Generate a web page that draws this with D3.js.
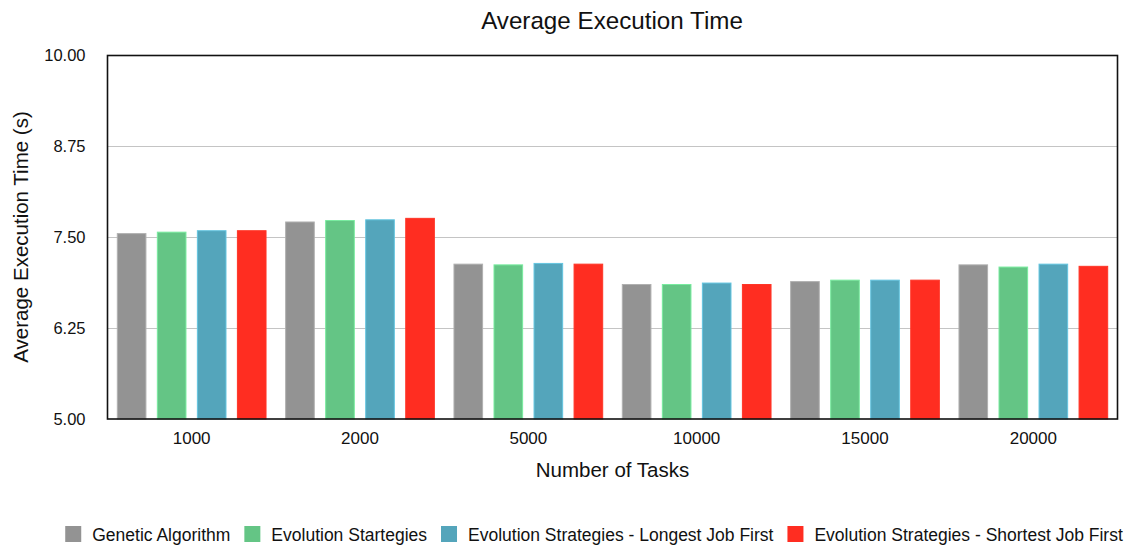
<!DOCTYPE html>
<html><head><meta charset="utf-8">
<script src="https://cdn.jsdelivr.net/npm/d3@7"></script>
<style>body{margin:0;background:#fff}svg{display:block}text{font-family:"Liberation Sans",Arial,Helvetica,sans-serif;fill:#111}</style>
</head><body><svg id="c" width="1129" height="545"></svg>
<script>
const categories = ["1000","2000","5000","10000","15000","20000"];
const seriesNames = ["Genetic Algorithm","Evolution Startegies","Evolution Strategies - Longest Job First","Evolution Strategies - Shortest Job First"];
const seriesColors = ["#939393","#64c585","#54a5bb","#ff2d21"];
const gaValues   = [7.55, 7.71, 7.13, 6.85, 6.89, 7.12];
const esValues   = [7.57, 7.73, 7.12, 6.85, 6.91, 7.09];
const ljfValues  = [7.59, 7.74, 7.14, 6.87, 6.91, 7.13];
const sjfValues  = [7.59, 7.76, 7.13, 6.85, 6.91, 7.10];
const yTicks = [5.00, 6.25, 7.50, 8.75, 10.00];
const allValues = [gaValues, esValues, ljfValues, sjfValues];

const svg = d3.select("#c");
const L = 107.5, R = 1117.5, T = 55.5, B = 419;
const x0 = d3.scaleBand().domain(categories).range([L, R]).padding(0);
const x1 = d3.scaleBand().domain(seriesNames).range([0, x0.bandwidth()]).paddingInner(0.285).paddingOuter(0.245);
const y = d3.scaleLinear().domain([5, 10]).range([B, T]);

// gridlines
svg.append("g").selectAll("line").data(yTicks.slice(1, -1)).join("line")
  .attr("x1", L).attr("x2", R).attr("y1", d => Math.round(y(d)) + 0.5).attr("y2", d => Math.round(y(d)) + 0.5)
  .attr("stroke", "#c4c4c4").attr("stroke-width", 1);

// bars
const rows = categories.map((c, i) => ({cat: c, vals: allValues.map((a, j) => ({name: seriesNames[j], v: a[i], color: seriesColors[j]}))}));
svg.append("g").selectAll("g").data(rows).join("g")
  .attr("transform", d => `translate(${x0(d.cat)},0)`)
  .selectAll("rect").data(d => d.vals).join("rect")
  .attr("x", d => x1(d.name)).attr("width", x1.bandwidth())
  .attr("y", d => y(d.v)).attr("height", d => y(5) - y(d.v))
  .attr("fill", d => d.color)
  .attr("stroke", d => d3.color(d.color).brighter(0.5)).attr("stroke-width", 1);

// frame
svg.append("rect").attr("x", L).attr("y", T).attr("width", R - L).attr("height", B - T)
  .attr("fill", "none").attr("stroke", "#111").attr("stroke-width", 1.6);

// y axis labels
const yAxis = d3.axisLeft(y).tickValues(yTicks).tickFormat(d3.format(".2f")).tickSize(0).tickPadding(22);
const gy = svg.append("g").attr("transform", `translate(${L},0)`).call(yAxis);
gy.select(".domain").remove();
gy.selectAll("text").style("font-size", "16.5px").attr("fill", "#111").style("font-family", '"Liberation Sans",Arial,sans-serif');

// x axis labels
const xAxis = d3.axisBottom(x0).tickSize(0).tickPadding(13);
const gx = svg.append("g").attr("transform", `translate(0,${B})`).call(xAxis);
gx.select(".domain").remove();
gx.selectAll("text").style("font-size", "17px").attr("fill", "#111").style("font-family", '"Liberation Sans",Arial,sans-serif');

// titles
svg.append("text").attr("x", 612).attr("y", 29).attr("text-anchor", "middle").style("font-size", "24.2px").text("Average Execution Time");
svg.append("text").attr("x", (L + R) / 2).attr("y", 477).attr("text-anchor", "middle").style("font-size", "20.5px").text("Number of Tasks");
svg.append("text").attr("transform", `translate(28,237) rotate(-90)`).attr("text-anchor", "middle").style("font-size", "20.5px").text("Average Execution Time (s)");

// legend
const lg = svg.append("g");
const items = lg.selectAll("g").data(seriesNames).join("g");
items.append("rect").attr("width", 16).attr("height", 16).attr("y", 526).attr("fill", (d, i) => seriesColors[i]);
items.append("text").attr("x", 27).attr("y", 541).style("font-size", "17.5px").text(d => d);
let cx = 0;
const offs = [];
items.each(function() { offs.push(cx); cx += 27 + d3.select(this).select("text").node().getComputedTextLength() + 14; });
const total = cx - 14;
const start = 594 - total / 2;
items.attr("transform", (d, i) => `translate(${start + offs[i]},0)`);
</script></body></html>
